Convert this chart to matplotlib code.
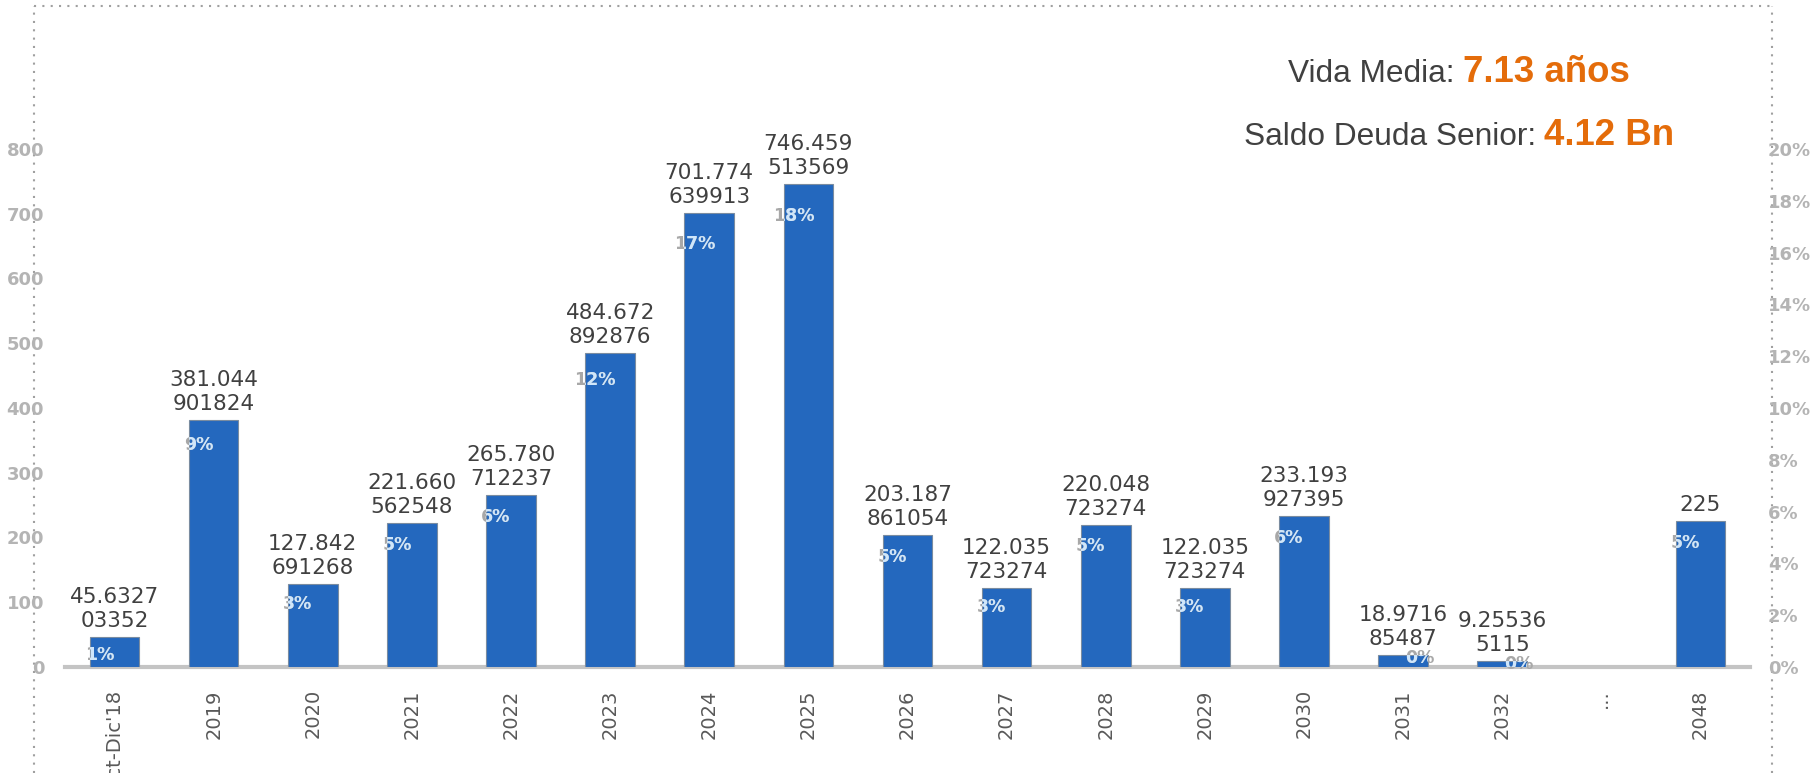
import textwrap
import numpy as np
import matplotlib
matplotlib.use("Agg")
import matplotlib.pyplot as plt
from matplotlib.lines import Line2D

# amortisation calendar (MM EUR)
categories = ["Oct-Dic'18", "2019", "2020", "2021", "2022", "2023", "2024", "2025",
              "2026", "2027", "2028", "2029", "2030", "2031", "2032", "...", "2048"]
amortizacion = [45.632703352, 381.044901824, 127.842691268, 221.660562548,
                265.780712237, 484.672892876, 701.774639913, 746.459513569,
                203.187861054, 122.035723274, 220.048723274, 122.035723274,
                233.193927395, 18.971685487, 9.255365115, np.nan, 225.0]
left_ticks = [0, 100, 200, 300, 400, 500, 600, 700, 800]
right_ticks = [0, 0.02, 0.04, 0.06, 0.08, 0.10, 0.12, 0.14, 0.16, 0.18, 0.20]

vida_media = ("Vida Media: ", "7.13 años")
saldo = ("Saldo Deuda Senior: ", "4.12 Bn")

W, H = 1817, 773
BLUE = "#2468BE"
ORANGE = "#E46C0A"

vals = np.array(amortizacion)
pct = vals / np.nansum(vals)
x = np.arange(len(categories))

fig = plt.figure(figsize=(W / 100, H / 100), dpi=100)
ax = fig.add_axes([65 / W, 106 / H, 1685 / W, 518 / H])
ax2 = ax.twinx()
ax2.set_position(ax.get_position())

ax.axhline(0, color="#c4c4c4", lw=3, zorder=1, clip_on=False)
bars = ax.bar(x, vals, width=0.5, color=BLUE, edgecolor="#7a8ca0", linewidth=0.8, zorder=2)

# value labels, wrapped like in the original (7 characters per line)
for xi, v in zip(x, vals):
    if np.isnan(v):
        continue
    s = ("%.9f" % v).rstrip("0").rstrip(".")
    label = "\n".join(textwrap.wrap(s, 7))
    ax.annotate(label, (xi, v), xytext=(0, 6), textcoords="offset pixels",
                ha="center", va="bottom", fontsize=15.5, color="#404040",
                family="DejaVu Sans", linespacing=1.25, zorder=4)

# percentage labels (gray outside the bar, light blue inside)
for xi, p, bar in zip(x, pct, bars):
    if np.isnan(p):
        continue
    txt = f"{p * 100:.0f}%"
    dx = 17 if round(p * 100) == 0 else -15
    dy = -3 if round(p * 100) == 0 else -17
    kw = dict(xytext=(dx, dy), textcoords="offset pixels", ha="center", va="center",
              fontsize=12.5, fontweight="bold", family="DejaVu Sans")
    ax2.annotate(txt, (xi, p), color="#a8a8a8", **kw)
    t = ax2.annotate(txt, (xi, p), color="#cfe6fb", **kw)
    t.set_clip_path(bar)

ax.set_xlim(-0.5, len(categories) - 0.5)
ax.set_ylim(0, 800)
ax2.set_ylim(0, 0.20)
ax.set_yticks(left_ticks)
ax.set_yticklabels([str(t) for t in left_ticks])
ax2.set_yticks(right_ticks)
ax2.set_yticklabels([f"{t * 100:.0f}%" for t in right_ticks])
ax.set_xticks(x)
ax.set_xticklabels(categories, rotation=90, ha="center", va="top",
                   fontsize=14, color="#595959", family="DejaVu Sans")

for a in (ax, ax2):
    for sp in a.spines.values():
        sp.set_visible(False)
    a.tick_params(length=0)
ax.tick_params(axis="x", pad=16)
ax.tick_params(axis="y", pad=15, labelsize=13, labelcolor="#b4b4b4")
ax2.tick_params(axis="y", pad=13, labelsize=13, labelcolor="#b4b4b4")
for lab in ax.get_yticklabels() + ax2.get_yticklabels():
    lab.set_fontweight("bold")

# dotted frame of the slide object
frame = dict(color="#a0a0a0", lw=1.5, linestyle=(0, (1, 3)), transform=fig.transFigure, zorder=0)
fig.add_artist(Line2D([34 / W, 1772 / W], [1 - 6 / H, 1 - 6 / H], **frame))
fig.add_artist(Line2D([34 / W, 34 / W], [0, 1 - 6 / H], **frame))
fig.add_artist(Line2D([1772 / W, 1772 / W], [0, 1 - 6 / H], **frame))

# headline figures
fig.canvas.draw()
renderer = fig.canvas.get_renderer()
center = 1459
for (plain, bold), base in ((vida_media, 82), (saldo, 145)):
    y = 1 - base / H
    t1 = fig.text(0, y, plain, fontsize=22.8, color="#404040",
                  family="Liberation Sans", va="baseline")
    t2 = fig.text(0, y, bold, fontsize=26.4, color=ORANGE, fontweight="bold",
                  family="Liberation Sans", va="baseline")
    w1 = t1.get_window_extent(renderer).width
    w2 = t2.get_window_extent(renderer).width
    x0 = center - (w1 + w2) / 2
    t1.set_x(x0 / W)
    t2.set_x((x0 + w1) / W)

fig.savefig("out.png", dpi=100)
